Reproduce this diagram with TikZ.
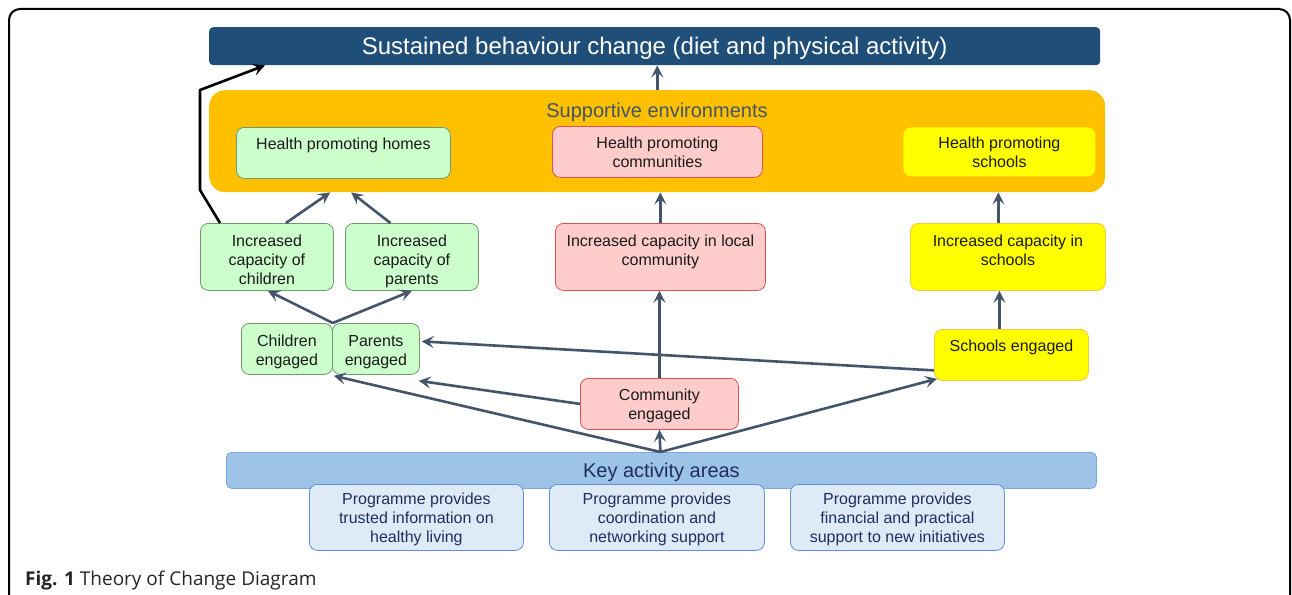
\documentclass[tikz,border=0pt]{standalone}
\usepackage{fontspec}
\setmainfont{Liberation Sans}
\newfontfamily\capfont{Open Sans}
\usetikzlibrary{arrows.meta,calc}
\definecolor{titleblue}{HTML}{1F4E79}
\definecolor{envorange}{HTML}{FFC000}
\definecolor{slate}{HTML}{44546A}
\definecolor{gfill}{HTML}{CCFFCC}
\definecolor{gline}{HTML}{6E9A6E}
\definecolor{pfill}{HTML}{FFCCCC}
\definecolor{pline}{HTML}{E05050}
\definecolor{yfill}{HTML}{FFFF00}
\definecolor{yline}{HTML}{F5C842}
\definecolor{kfill}{HTML}{9DC3E6}
\definecolor{kline}{HTML}{7AAAE0}
\definecolor{bfill}{HTML}{DEEBF7}
\definecolor{bline}{HTML}{5F8FD8}
\definecolor{navy}{HTML}{1F2E5E}
\definecolor{ink}{HTML}{1A1A1A}
\newcommand{\bxt}[4]{\parbox[c][#2pt][t]{#1pt}{\centering\vspace*{#3pt}\strut#4}}
\tikzset{
  box/.style={rounded corners=8pt, inner sep=0pt, anchor=north west, line width=0.8pt,
    text=ink, font=\fontsize{16}{19}\selectfont},
  gbox/.style={box, fill=gfill, draw=gline},
  pbox/.style={box, fill=pfill, draw=pline},
  ybox/.style={box, fill=yfill, draw=yline},
  bbox/.style={box, fill=bfill, draw=bline, text=navy},
  arr/.style={draw=slate, line width=2.6pt, -{Stealth[length=12pt,width=12pt,inset=5pt]}},
  barr/.style={draw=black, line width=2.6pt, line join=round, -{Stealth[length=12pt,width=12pt,inset=5pt]}},
}
\begin{document}
\begin{tikzpicture}[x=1pt,y=-1pt]
\useasboundingbox (0,0) rectangle (1292,594);
\fill[white] (0,0) rectangle (1292,594);
% outer frame
\draw[line width=2pt, rounded corners=11pt] (9,610) -- (9,9) -- (1290,9) -- (1290,610);

% title
\node[fill=titleblue, rounded corners=4pt, anchor=north west, minimum width=891pt, minimum height=38pt,
  inner sep=0pt, text=white, font=\fontsize{24}{28}\selectfont] (title) at (209,27)
  {\raisebox{-2pt}[\height][\depth]{Sustained behaviour change (diet and physical activity)}};

% supportive environments
\node[fill=envorange, rounded corners=16pt, anchor=north west, minimum width=896pt, minimum height=102pt, inner sep=0pt] (env) at (209,90) {};
\node[text=slate, font=\fontsize{20}{24}\selectfont, inner sep=0pt] (envlbl) at (657,112) {Supportive environments};

\node[gbox] (homes) at (236,127) {\bxt{214}{51}{9}{Health promoting homes}};
\node[pbox] (comms) at (552,126) {\bxt{210}{51}{9}{Health promoting\\communities}};
\node[box, fill=yfill, draw=none] (schools) at (903,127) {\bxt{192}{49}{8}{Health promoting\\schools}};

% increased capacity
\node[gbox] (icc) at (200,223) {\bxt{133}{67}{9.5}{Increased\\capacity of\\children}};
\node[gbox] (icp) at (345,223) {\bxt{133}{67}{9.5}{Increased\\capacity of\\parents}};
\node[pbox] (lcc) at (555,223) {\bxt{210}{67}{9.5}{Increased capacity in local\\community}};
\node[ybox] (isc) at (910,223) {\bxt{195}{67}{9.5}{Increased capacity in\\schools}};

% engaged
\node[gbox] (ce) at (241,323) {\bxt{91}{51}{9.5}{Children\\engaged}};
\node[gbox] (pe) at (332,323) {\bxt{87}{51}{9.5}{Parents\\engaged}};
\node[pbox] (cme) at (580,378) {\bxt{158}{51}{8.5}{Community\\engaged}};
\node[ybox] (se) at (934,329) {\bxt{154}{51}{8.5}{Schools engaged}};

% key activity areas
\node[fill=kfill, draw=kline, line width=0.8pt, rounded corners=5pt, anchor=north west, minimum width=870pt,
  minimum height=36pt, inner sep=0pt, text=navy, font=\fontsize{20}{24}\selectfont] (ka) at (226,452)
  {\raisebox{-1.5pt}[\height][\depth]{Key activity areas}};
\node[bbox] (p1) at (309,484) {\bxt{214}{66}{6.5}{Programme provides\\trusted information on\\healthy living}};
\node[bbox] (p2) at (549,484) {\bxt{215}{66}{6.5}{Programme provides\\coordination and\\networking support}};
\node[bbox] (p3) at (790,484) {\bxt{214}{66}{6.5}{Programme provides\\financial and practical\\support to new initiatives}};

% arrows
\draw[arr] (env.north) -- (title.south -| env.north);
\draw[arr] ([xshift=19pt]icc.north) -- ([xshift=-327pt]env.south);
\draw[arr] ([xshift=-21.5pt]icp.north) -- ([xshift=-306pt]env.south);
\draw[arr] (lcc.north) -- (lcc.north |- env.south);
\draw[arr] ([xshift=-9.5pt]isc.north) -- ([xshift=-9.5pt]isc.north |- env.south);

\draw[arr] (ce.north east) -- ([xshift=1pt]icc.south);
\draw[arr] (ce.north east) -- (icp.south);
\draw[arr] (cme.north) -- (cme.north |- lcc.south);
\draw[arr] ([xshift=-12pt]se.north) -- ([xshift=-12pt]se.north |- isc.south);

\draw[arr] ([yshift=-15.5pt]se.west) -- ([xshift=2pt,yshift=7.5pt]pe.east);
\draw[arr] (cme.west) -- ([xshift=-1pt,yshift=-6pt]pe.south east);
\draw[arr] ([xshift=-1pt]ka.north) -- ([xshift=1pt,yshift=-1pt]ce.south east);
\draw[arr] ([xshift=-1pt]ka.north) -- ([xshift=3pt,yshift=2pt]se.south west);
\draw[arr] ([xshift=-1pt]ka.north) -- (cme.south);

\draw[barr] ([xshift=20pt]icc.north west) -- (200,190) -- (200,90) -- ([xshift=56pt]title.south west);

% caption
\node[anchor=base west, inner sep=0pt, font=\capfont\fontsize{19}{22}\selectfont, text=black!85] (cap) at (25,585)
  {\textbf{Fig. 1} Theory of Change Diagram};
\end{tikzpicture}
\end{document}
